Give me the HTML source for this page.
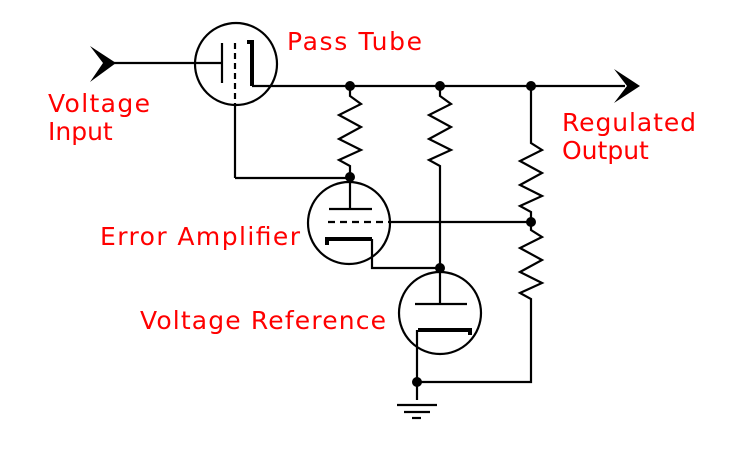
<!DOCTYPE html>
<html><head><style>body{margin:0;background:#fff}svg{display:block}</style></head><body>
<svg width="740" height="453" xmlns="http://www.w3.org/2000/svg" font-family="DejaVu Sans, sans-serif" font-size="25" fill="none" stroke="#000" stroke-width="2.2">
<!-- input -->
<polygon points="116,63 90,46 103,63 90,82" fill="#000" stroke="none"/>
<line x1="103" y1="63" x2="222" y2="63"/>
<!-- pass tube -->
<circle cx="236" cy="64" r="41"/>
<line x1="222" y1="43" x2="222" y2="83"/>
<line x1="235" y1="43" x2="235" y2="105" stroke-dasharray="6,4"/>
<line x1="235" y1="105" x2="235" y2="178"/>
<polyline points="247,42 252,42 252,86" stroke-width="4"/>
<line x1="252" y1="86" x2="625" y2="86"/>
<polygon points="640,86 614,69 627,86 614,103" fill="#000" stroke="none"/>
<line x1="235" y1="178" x2="350" y2="178"/>
<!-- resistor 1 -->
<polyline points="350,86 350,96 361,104 339,115 361,127 339,139 361,150 339,160 350,166 350,177"/>
<!-- resistor 2 -->
<polyline points="440,86 440,96 451,104 429,115 451,127 429,139 451,150 429,160 440,166 440,268"/>
<!-- resistor 3 -->
<polyline points="531,86 531,143 542,150 520,161 542,173 520,185 542,196 520,206 531,212 531,230 542,237 520,248 542,260 520,272 542,283 520,293 531,299 531,382 417,382"/>
<!-- error amp -->
<circle cx="349" cy="223" r="41"/>
<line x1="350" y1="177" x2="350" y2="209"/>
<line x1="329" y1="209" x2="372" y2="209"/>
<line x1="328" y1="222" x2="390" y2="222" stroke-dasharray="7,5"/>
<line x1="390" y1="222" x2="531" y2="222"/>
<polyline points="327,245 327,239 372,239" stroke-width="4"/>
<polyline points="372,239 372,268 440,268"/>
<!-- reference -->
<circle cx="440" cy="313" r="41"/>
<line x1="440" y1="268" x2="440" y2="304"/>
<line x1="415" y1="304" x2="467" y2="304"/>
<polyline points="418,330 470,330 470,335" stroke-width="4"/>
<line x1="417" y1="330" x2="417" y2="400"/>
<!-- ground -->
<line x1="397" y1="405" x2="437" y2="405"/>
<line x1="404" y1="412" x2="430" y2="412"/>
<line x1="412" y1="418" x2="421" y2="418"/>
<!-- dots -->
<g fill="#000" stroke="none">
<circle cx="350" cy="86" r="5"/><circle cx="440" cy="86" r="5"/><circle cx="531" cy="86" r="5"/>
<circle cx="350" cy="177" r="5"/><circle cx="531" cy="222" r="5"/><circle cx="440" cy="268" r="5"/>
<circle cx="417" cy="382" r="5"/>
</g>
<g fill="#f00" stroke="none">
<text x="287" y="50" textLength="135">Pass Tube</text>
<text x="48" y="112" textLength="102">Voltage</text>
<text x="48" y="140">Input</text>
<text x="562" y="131" textLength="134">Regulated</text>
<text x="562" y="159">Output</text>
<text x="100" y="245" textLength="200">Error Amplifier</text>
<text x="140" y="329" textLength="246">Voltage Reference</text>
</g>
</svg>
</body></html>
